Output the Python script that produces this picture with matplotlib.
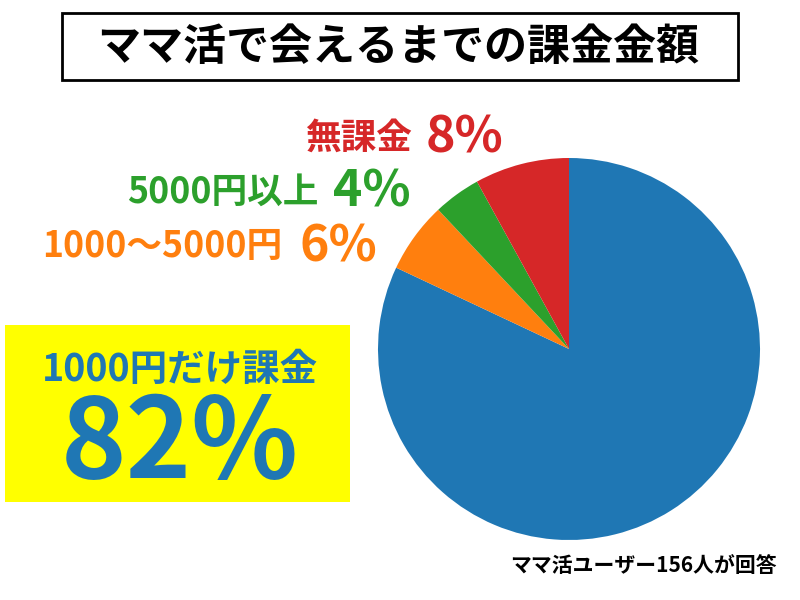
import matplotlib.pyplot as plt
from matplotlib.patches import Rectangle

plt.rcParams['font.family'] = ['Noto Sans CJK JP', 'DejaVu Sans']

# data
labels = ['1000円だけ課金', '1000～5000円', '5000円以上', '無課金']
values = [82, 6, 4, 8]
colors = ['#1f77b4', '#ff7f0e', '#2ca02c', '#d62728']
title = 'ママ活で会えるまでの課金金額'
note = 'ママ活ユーザー156人が回答'

W, H = 800, 600
fig = plt.figure(figsize=(8, 6), dpi=100)


def fx(x):
    return x / W


def fy(y):
    return 1 - y / H


# title box
fig.patches.append(Rectangle((fx(62), fy(80)), fx(738) - fx(62), fy(13) - fy(80),
                             transform=fig.transFigure, fill=False,
                             edgecolor='black', linewidth=2))
fig.text(fx(398), fy(47), title, ha='center', va='center',
         fontsize=31, fontweight='bold')

# pie
cx, cy, r = 569, 349, 191
ax = fig.add_axes([fx(cx - r), fy(cy + r), 2 * r / W, 2 * r / H])
ax.pie(values, colors=colors, startangle=90, counterclock=False)
ax.set_xlim(-1, 1)
ax.set_ylim(-1, 1)

# small labels on the left
lab_pos = {3: (412, 138), 2: (318, 192), 1: (282, 247)}
pct_pos = {3: (426, 138), 2: (333, 192), 1: (300, 247)}
for i in [3, 2, 1]:
    x, y = lab_pos[i]
    fig.text(fx(x), fy(y), labels[i], ha='right', va='center',
             fontsize=25.7, fontweight='bold', color=colors[i])
    x, y = pct_pos[i]
    fig.text(fx(x), fy(y), '%d%%' % values[i], ha='left', va='center',
             fontsize=36, fontweight='bold', color=colors[i])

# yellow highlight box
fig.patches.append(Rectangle((fx(5), fy(502)), fx(350) - fx(5), fy(325) - fy(502),
                             transform=fig.transFigure, facecolor='#ffff00',
                             edgecolor='none'))
fig.text(fx(180), fy(369), labels[0], ha='center', va='center',
         fontsize=27, fontweight='bold', color=colors[0])
fig.text(fx(180), fy(446), '%d%%' % values[0], ha='center', va='center',
         fontsize=80, fontweight='bold', color=colors[0])

fig.text(fx(777), fy(565), note, ha='right', va='center',
         fontsize=15, fontweight='bold')

fig.savefig('out.png', dpi=100)
